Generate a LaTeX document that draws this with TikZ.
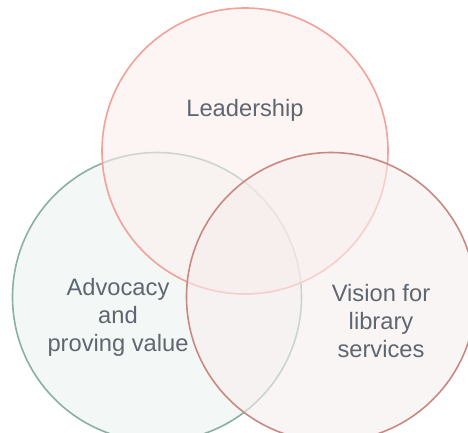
\documentclass[tikz,border=0pt]{standalone}
\usepackage{fontspec}
\setmainfont{Liberation Sans}
\usetikzlibrary{positioning}
\definecolor{advline}{HTML}{8AB0A2}
\definecolor{advfill}{HTML}{EBF3F0}
\definecolor{leadline}{HTML}{F4A199}
\definecolor{leadfill}{HTML}{FCEEEC}
\definecolor{visline}{HTML}{C98983}
\definecolor{visfill}{HTML}{F7EEEE}
\definecolor{txtgray}{HTML}{5E6670}
\tikzset{venn/.style={draw,circle,minimum size=289pt,inner sep=0pt,line width=1.6pt,fill opacity=0.6},lbl/.style={text=txtgray,font=\fontsize{23.7}{28}\selectfont,align=center}}

\begin{document}
\begin{tikzpicture}[x=1pt,y=-1pt]
          \useasboundingbox (0,0) rectangle (468,432);

          % the three sets, drawn back to front
          \foreach \n/\x/\y/\d in {adv/157/297/289, lead/245/151/286, vis/331/297/289}
          {\node (\n) [venn,minimum size=\d pt,draw=\n line,fill=\n fill] at (\x,\y) {};}

          % labels
          \node (leadtxt) [lbl] at (245,110) {Leadership};
          \node (advtxt) [lbl] at (118,317) {Advocacy\\and\\proving value};
          \node (vistxt) [lbl] at (381,321) {Vision for\\library\\services};
\end{tikzpicture}
\end{document}
